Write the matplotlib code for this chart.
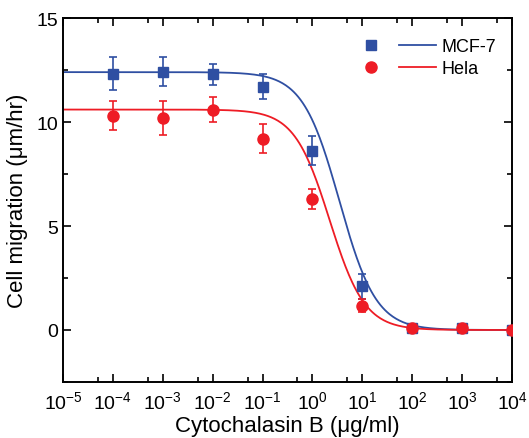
import numpy as np
import matplotlib
matplotlib.use('Agg')
import matplotlib.pyplot as plt
from matplotlib.lines import Line2D
from matplotlib.legend_handler import HandlerTuple
from matplotlib.ticker import FixedLocator, MultipleLocator

plt.rcParams['font.family'] = ['Liberation Sans', 'DejaVu Sans']
plt.rcParams['mathtext.fontset'] = 'custom'
plt.rcParams['mathtext.rm'] = 'Liberation Sans'
plt.rcParams['mathtext.default'] = 'regular'

# concentration (ug/ml)
conc = [1e-4, 1e-3, 1e-2, 1e-1, 1e0, 1e1, 1e2, 1e3, 1e4]

mcf7_mean = [12.32, 12.42, 12.3, 11.7, 8.62, 2.1, 0.1, 0.1, 0.0]
mcf7_err = [0.8, 0.7, 0.5, 0.6, 0.7, 0.6, 0.05, 0.05, 0.05]

hela_mean = [10.3, 10.2, 10.6, 9.2, 6.3, 1.17, 0.1, 0.1, 0.0]
hela_err = [0.7, 0.8, 0.6, 0.7, 0.5, 0.3, 0.05, 0.05, 0.05]

# logistic fit parameters: top, x0, power
mcf7_fit = (12.4, 3.47, 1.18)
hela_fit = (10.6, 2.2, 1.23)

blue = '#2f4fa2'
red = '#ee1c25'


def logistic(x, top, x0, p):
    return top / (1.0 + (x / x0) ** p)


fig = plt.figure(figsize=(5.29, 4.39), dpi=100)
ax = fig.add_axes([0.119, 0.1276, 0.849, 0.829])

xs = np.logspace(-5, 4, 400)
ax.plot(xs, logistic(xs, *mcf7_fit), color=blue, lw=1.3, zorder=2)
ax.plot(xs, logistic(xs, *hela_fit), color=red, lw=1.3, zorder=2)

ax.errorbar(conc, mcf7_mean, yerr=mcf7_err, fmt='s', color=blue, ms=7,
            capsize=3, elinewidth=1.2, capthick=1.2, zorder=3)
ax.errorbar(conc, hela_mean, yerr=hela_err, fmt='o', color=red, ms=8,
            capsize=3, elinewidth=1.2, capthick=1.2, zorder=3)

ax.set_xscale('log')
ax.set_xlim(1e-5, 1e4)
ax.set_ylim(-2.5, 15)
ax.xaxis.set_major_locator(FixedLocator([10.0 ** k for k in range(-5, 5)]))
ax.xaxis.set_minor_locator(FixedLocator([5 * 10.0 ** k for k in range(-5, 4)]))
ax.yaxis.set_major_locator(MultipleLocator(5))
ax.yaxis.set_minor_locator(MultipleLocator(2.5))
ax.set_xticklabels(['10$^{%d}$' % k for k in range(-5, 5)])

ax.tick_params(which='both', direction='in', top=True, right=True, width=1.2,
               labelsize=14)
ax.tick_params(which='major', length=6)
ax.tick_params(which='minor', length=3.5)
ax.tick_params(axis='x', pad=6)
for s in ax.spines.values():
    s.set_linewidth(1.4)

ax.set_xlabel('Cytochalasin B (μg/ml)', fontsize=16, labelpad=2)
ax.set_ylabel('Cell migration (μm/hr)', fontsize=16, labelpad=6)

h1 = (Line2D([], [], marker='s', color=blue, ls='none', ms=7),
      Line2D([], [], color=blue, lw=1.3))
h2 = (Line2D([], [], marker='o', color=red, ls='none', ms=8),
      Line2D([], [], color=red, lw=1.3))
ax.legend([h1, h2], ['MCF-7', 'Hela'], handler_map={tuple: HandlerTuple(ndivide=None, pad=0.5)},
          loc='upper right', bbox_to_anchor=(1.0, 0.99), frameon=False, fontsize=13,
          handlelength=4.6, handletextpad=0.3, labelspacing=0.3)

fig.savefig('out.png', dpi=100)
